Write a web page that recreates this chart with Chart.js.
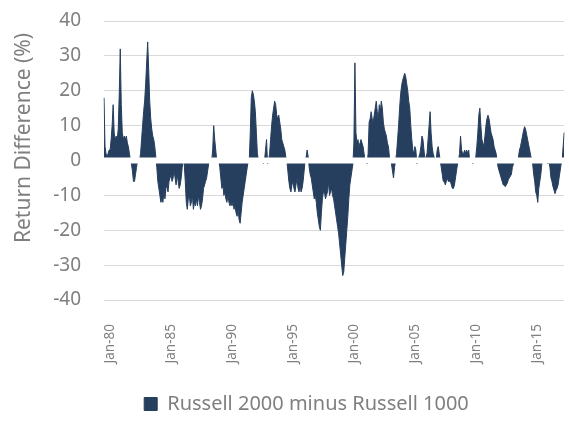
<!DOCTYPE html>
<html>
<head>
<meta charset="utf-8">
<script src="https://cdn.jsdelivr.net/npm/chart.js@4.4.1/dist/chart.umd.min.js"></script>
<style>
  html, body { margin: 0; padding: 0; background: #fff; }
  #wrap { width: 569px; height: 424px; }
</style>
</head>
<body>
<div id="wrap"><canvas id="chartDiff" width="569" height="424"></canvas></div>
<script>
// monthly return difference, Jul-79 onwards
const diffValues = [
  18, 4, 2, 1, 2, 3,                                    // 1979 (Jul-Dec)
  3, 6, 10, 16, 8, 6, 7, 6, 9, 19, 32, 16,              // 1980
  8, 6, 7, 6, 7, 5, 4, 2, 0, -1, -3, -6,                // 1981
  -6, -4, -2, 0, 0, 0, 2, 6, 10, 14, 17, 22,            // 1982
  28, 34, 26, 17, 12, 9, 7, 6, 4, 1, -2, -6,            // 1983
  -8, -10, -12, -11, -12, -9, -11, -8, -7, -9, -6, -5,  // 1984
  -4, -6, -5, -3, -5, -7, -4, -6, -8, -7, -5, -2,       // 1985
  0, -1, -6, -12, -14, -11, -10, -13, -12, -10, -14, -12, // 1986
  -13, -11, -13, -10, -12, -14, -13, -11, -8, -7, -6, -5, // 1987
  -3, -1, 0, 0, 0, 3, 10, 6, 3, 0, 0, 0,                // 1988
  -2, -5, -8, -7, -10, -9, -11, -12, -10, -12, -13, -12, // 1989
  -13, -12, -14, -13, -15, -16, -14, -17, -18, -15, -12, -10, // 1990
  -8, -6, -4, -2, 0, 0, 8, 18, 20, 19, 17, 14,          // 1991
  8, 2, 0, 0, 0, 0, 0, -1, 0, 3, 6, -1,                 // 1992
  0, 2, 6, 10, 13, 15, 17, 16, 13, 12, 13, 11,          // 1993
  9, 6, 5, 4, 3, 1, 0, -3, -6, -8, -9, -7,              // 1994
  -6, -8, -9, -7, -5, -8, -9, -7, -9, -8, -6, -3,       // 1995
  0, 1, 3, 1, -2, -4, -5, -7, -9, -11, -10, -12,        // 1996
  -15, -17, -19, -20, -15, -11, -9, -9, -11, -10, -9, -6, // 1997
  -10, -9, -8, -10, -11, -13, -15, -17, -19, -21, -24, -27, // 1998
  -30, -33, -32, -28, -24, -20, -16, -11, -7, -5, -3, -1, // 1999
  5, 28, 8, 5, 6, 4, 5, 6, 5, 4, 2, 0,                  // 2000
  0, -1, 2, 11, 12, 14, 12, 11, 13, 15, 17, 14,         // 2001
  12, 16, 14, 17, 15, 11, 9, 8, 7, 5, 4, 1,             // 2002
  0, -1, -3, -5, -2, 0, 2, 6, 10, 15, 19, 21.5,         // 2003
  23, 24, 25, 24, 22, 20, 17, 15, 10, 6, 3, 2,          // 2004
  4, 3, -1, 0, 1, 2, 4, 7, 6, 3, 0, 1,                  // 2005
  2, 6, 10, 14, 8, 4, 2, 1, 0, 0, 3, 4,                 // 2006
  2, 0, -2, -4, -6, -6, -7, -6, -5, -6, -6, -6,         // 2007
  -7, -8, -8, -7, -5, -3, -1, 0, 2, 7, 3, 2,            // 2008
  2, 3, 2, 3, 2, 3, 0, 0, 0, -1, 0, 0,                  // 2009
  1, 4, 8, 13, 15, 10, 6, 5, 4, 7, 10, 12,              // 2010
  13, 12, 10, 8, 7, 6, 4, 3, 2, 0, -2, -3,              // 2011
  -4, -5, -6, -7, -7, -7.5, -7, -6.5, -5.5, -5, -4.5, -4, // 2012
  -2, -1, 0, 0, 0, 0, 1, 3, 4, 5.5, 7, 8.5,             // 2013
  9.7, 9, 7.5, 6, 4.5, 3, 1.5, 0, -1, -4, -6, -9,       // 2014
  -10, -12, -8, -6, -4, -1, 0, 0, 0, 0, 0, -1,          // 2015
  0, -2, -5, -6, -7.5, -8.5, -9.5, -8.5, -8, -7, -5, -3, // 2016
  -1, 0, 4, 8                                           // 2017 (Jan-Apr)
];

const monthNames = ["Jan","Feb","Mar","Apr","May","Jun","Jul","Aug","Sep","Oct","Nov","Dec"];
const startYear = 1979, startMonth = 6; // Jul-79

// category labels, one per month
const monthLabels = diffValues.map((_, i) => {
  const m = startMonth + i;
  const yy = (startYear + Math.floor(m / 12)) % 100;
  return monthNames[m % 12] + "-" + String(yy).padStart(2, "0");
});

// labels that are actually shown on the x axis
const tickLabels = ["Jan-80","Jan-85","Jan-90","Jan-95","Jan-00","Jan-05","Jan-10","Jan-15"];

const seriesName = "Russell 2000 minus Russell 1000";
const yTitleText = "Return Difference (%)";
const navy = "#263f5e";
const grey = "#7f7f7f";
const font = "'Noto Sans', sans-serif";

// white band over the zero line (the picture has a gap there)
const zeroBand = {
  id: "zeroBand",
  afterDatasetsDraw(chart){
    const { ctx, chartArea, scales } = chart;
    const y0 = scales.y.getPixelForValue(0);
    ctx.save();
    ctx.fillStyle = "#ffffff";
    ctx.fillRect(chartArea.left, y0 - 3, chartArea.right - chartArea.left, 6);
    ctx.restore();
  }
};

// y axis title, placed a bit above the middle like the original
const yTitle = {
  id: "yTitle",
  afterDraw(chart){
    const c = chart.ctx;
    c.save();
    c.translate(24, 138);
    c.rotate(-Math.PI / 2);
    c.textAlign = "center";
    c.textBaseline = "middle";
    c.fillStyle = grey;
    c.font = "21px 'Noto Sans', sans-serif";
    c.fillText(yTitleText, 0, 0);
    c.restore();
  }
};

const ctx = document.getElementById("chartDiff").getContext("2d");
const chartDiff = new Chart(ctx, {
  type: "line",
  data: {
    labels: monthLabels,
    datasets: [{
      label: seriesName,
      data: diffValues,
      fill: "origin",
      backgroundColor: navy,
      borderColor: navy,
      borderWidth: 1,
      pointRadius: 0,
      tension: 0
    }]
  },
  options: {
    responsive: false,
    animation: false,
    layout: { padding: { top: 21, right: 1, left: 45, bottom: 0 } },
    plugins: {
      legend: {
        position: "bottom",
        labels: { boxWidth: 13, boxHeight: 13, color: grey, font: { family: font, size: 20 }, padding: 5 }
      },
      tooltip: { enabled: false }
    },
    scales: {
      x: {
        grid: { display: false },
        border: { display: false },
        afterFit: (s) => { s.height = 89; },
        ticks: {
          autoSkip: false,
          minRotation: 90,
          maxRotation: 90,
          padding: 16,
          color: grey,
          font: { family: font, size: 13.5 },
          callback: function(val){
            const lab = this.getLabelForValue(val);
            return tickLabels.includes(lab) ? lab : null;
          }
        }
      },
      y: {
        min: -40,
        max: 40,
        border: { display: false },
        grid: { color: "#d9d9d9", drawTicks: false },
        afterFit: (s) => { s.width = 59; s.paddingTop = 0; s.paddingBottom = 0; },
        ticks: { stepSize: 10, padding: 23, color: grey, font: { family: font, size: 19 } }
      }
    }
  },
  plugins: [zeroBand, yTitle]
});
</script>
</body>
</html>
